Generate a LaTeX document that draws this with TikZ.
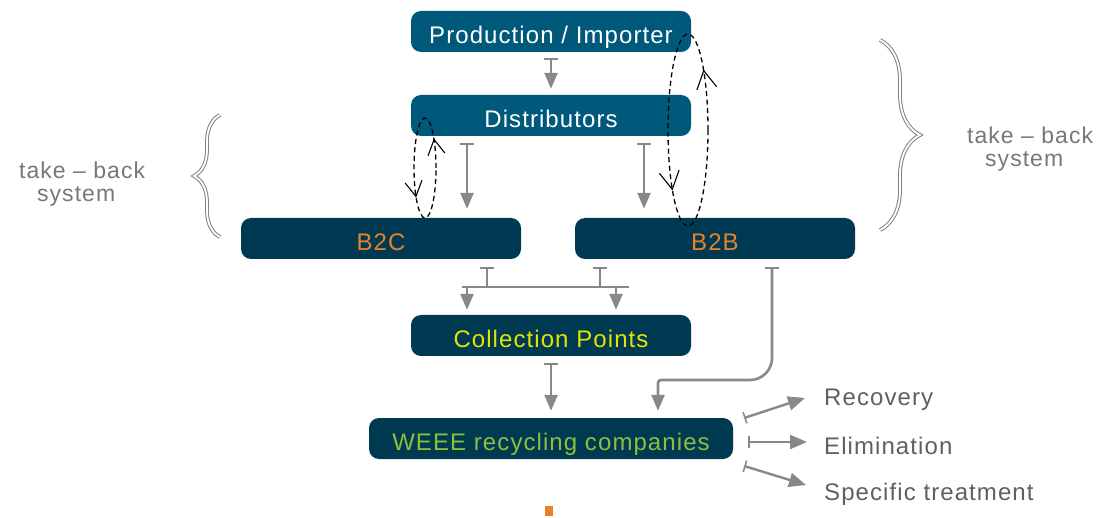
\documentclass[tikz,border=0pt]{standalone}
\usepackage{fontspec}
\setmainfont{Liberation Sans}[LetterSpace=4.5]
\usetikzlibrary{arrows.meta,decorations.pathreplacing,decorations.markings}
\definecolor{boxTopColor}{RGB}{0,89,122}
\definecolor{boxLowColor}{RGB}{0,58,82}
\definecolor{flowColor}{RGB}{135,136,138}
\definecolor{labelColor}{RGB}{95,96,98}
\definecolor{braceColor}{RGB}{130,130,130}
\definecolor{orangeText}{RGB}{232,130,42}
\definecolor{yellowText}{RGB}{228,228,0}
\definecolor{greenText}{RGB}{141,190,60}
\tikzset{
  boxTop/.style={fill=boxTopColor,text=white,rounded corners=10pt,minimum width=280pt,minimum height=41pt,inner sep=0pt,text height=24pt,text depth=0.5pt,font=\fontsize{24}{26}\selectfont},
  boxLow/.style={boxTop,fill=boxLowColor},
  flow/.style={draw=flowColor,line width=2.6pt,{Bar[width=14pt,line width'=2pt]}-{Triangle[width=13pt,length=16pt]}},
  flowLine/.style={draw=flowColor,line width=2.6pt},
  flowBar/.style={flowLine,{Bar[width=14pt,line width'=2pt]}-},
  flowHead/.style={flowLine,-{Triangle[width=13pt,length=16pt]}},
  outFlow/.style={draw=flowColor,line width=2.4pt,{Bar[width=12pt,line width'=1.6pt]}-{Triangle[width=14pt,length=17pt]}},
  outLabel/.style={anchor=west,text=labelColor,inner sep=2pt,font=\fontsize{24}{26}\selectfont},
  sideLabel/.style={anchor=west,align=left,text=labelColor!85,inner sep=0pt,font=\fontsize{23}{23}\selectfont},
  takeBrace/.style={draw=braceColor,double=white,line width=1pt,double distance=1.8pt,decorate},
  backLoop/.style={draw=black,dash pattern=on 5pt off 3.5pt,line width=1.3pt,postaction={decorate}},
}
\begin{document}
\begin{tikzpicture}[x=1pt,y=1pt]
\path[use as bounding box,fill=white] (0,0) rectangle (1100,517);

\node[boxTop] (prod) at (551,485.5) {Production / Importer};
\node[boxTop] (dist) at (551,401.5) {Distributors};
\node[boxLow,text=orangeText] (b2c) at (381,278.5) {B2C};
\node[boxLow,text=orangeText] (b2b) at (715,278.5) {B2B};
\node[boxLow,text=yellowText] (coll) at (551,181.5) {Collection Points};
\node[boxLow,text=greenText,minimum width=364pt] (weee) at (551,78.5) {WEEE recycling companies};

\node[outLabel] (rec) at (822,117) {Recovery};
\node[outLabel] (elim) at (822,71) {Elimination};
\node[outLabel] (spec) at (822,23) {Specific treatment};

\node[sideLabel] (takeL) at (19,333) {take -- back\\\hspace*{18pt}system};
\node[sideLabel] (takeR) at (967,368) {take -- back\\\hspace*{18pt}system};

\draw[flow] ([yshift=-6pt]prod.south) -- ([yshift=6pt]dist.north);
\draw[flow] ([xshift=-84pt,yshift=-7pt]dist.south) -- ([xshift=86pt,yshift=9pt]b2c.north);
\draw[flow] ([xshift=93pt,yshift=-7pt]dist.south) -- ([xshift=-71pt,yshift=9pt]b2b.north);

\coordinate (joinL) at (462,230);
\coordinate (joinR) at (629,230);
\draw[flowBar] ([xshift=106pt,yshift=-8pt]b2c.south) -- ([xshift=106pt]b2c.south |- joinL);
\draw[flowBar] ([xshift=-115pt,yshift=-8pt]b2b.south) -- ([xshift=-115pt]b2b.south |- joinL);
\draw[flowLine] (joinL) -- (joinR);
\draw[flowHead] ([xshift=-84pt]coll.north |- joinL) -- ([xshift=-84pt,yshift=5pt]coll.north);
\draw[flowHead] ([xshift=65pt]coll.north |- joinL) -- ([xshift=65pt,yshift=5pt]coll.north);

\draw[flow] ([yshift=-7pt]coll.south) -- ([yshift=7pt]weee.north);
\coordinate (bend) at (700,137);
\draw[flow] ([xshift=57pt,yshift=-8pt]b2b.south) [rounded corners=22pt] -- ([xshift=57pt]b2b.south |- bend) [rounded corners=3pt] -- ([xshift=107pt]weee.north |- bend) [sharp corners] -- ([xshift=107pt,yshift=7pt]weee.north);

\draw[outFlow] ([xshift=11pt,yshift=20.5pt]weee.east) -- ([xshift=-17pt,yshift=2pt]rec.west);
\draw[outFlow] ([xshift=15pt,yshift=-3.5pt]weee.east) -- ([xshift=-15pt,yshift=4pt]elim.west);
\draw[outFlow] ([xshift=11pt,yshift=-27.5pt]weee.east) -- ([xshift=-16pt,yshift=9pt]spec.west);

\draw[backLoop,decoration={markings,
    mark=at position 0.14 with {\arrow{Straight Barb[length=15pt,width=17pt,line width'=1.1pt]}},
    mark=at position 0.64 with {\arrow{Straight Barb[length=15pt,width=17pt,line width'=1.1pt]}}}]
  (425,349) ellipse [x radius=11pt,y radius=50pt];
\draw[backLoop,decoration={markings,
    mark=at position 0.15 with {\arrow{Straight Barb[length=18pt,width=20pt,line width'=1.1pt]}},
    mark=at position 0.65 with {\arrow{Straight Barb[length=18pt,width=20pt,line width'=1.1pt]}}}]
  (688,387) ellipse [x radius=20pt,y radius=96pt];

\draw[takeBrace,decoration={brace,amplitude=26pt}] (220,280) -- (220,402);
\draw[takeBrace,decoration={brace,amplitude=40pt}] (880,477) -- (880,287);

\fill[orangeText] (545,1) rectangle (553,11);
\end{tikzpicture}
\end{document}
